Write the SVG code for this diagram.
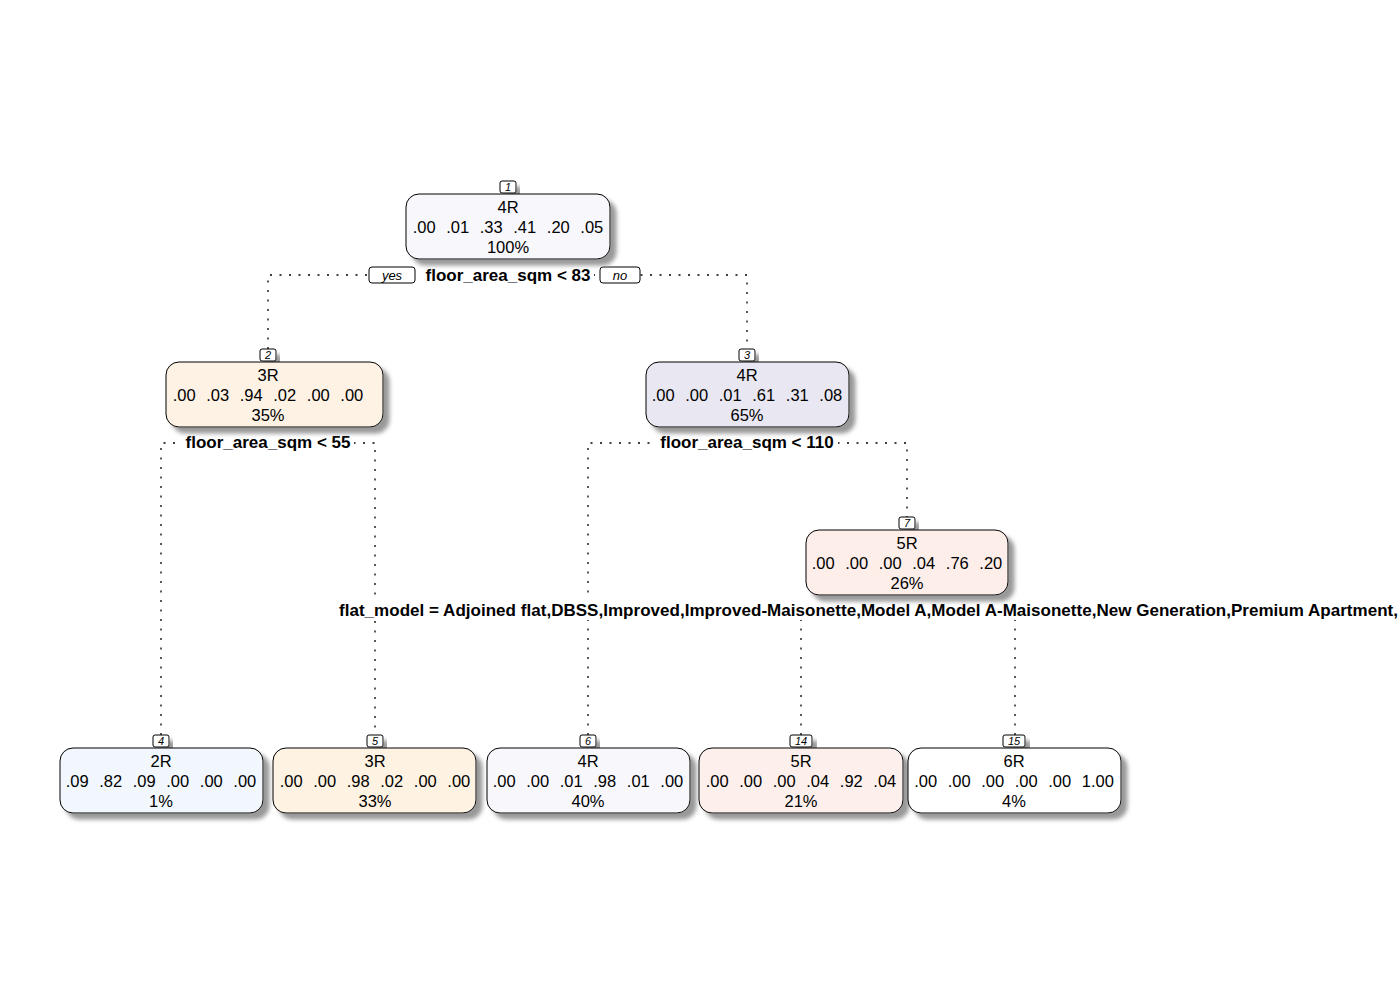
<svg xmlns="http://www.w3.org/2000/svg" width="1400" height="1000" viewBox="0 0 1400 1000">
<defs>
<filter id="sh" x="-10%" y="-20%" width="130%" height="150%">
<feDropShadow dx="6" dy="6" stdDeviation="2.2" flood-color="#999" flood-opacity="1"/>
</filter>
</defs>
<style>
.node{stroke:#000;stroke-width:1;filter:url(#sh)}
.t{font-family:"Liberation Sans",Arial,sans-serif;font-size:16.5px;text-anchor:middle;fill:#000}
.v{word-spacing:6px}
.num{fill:#fff;stroke:#000;stroke-width:1;filter:url(#sh)}
.nt{font-family:"Liberation Sans",Arial,sans-serif;font-size:11px;font-style:italic;text-anchor:middle}
.split{font-family:"Liberation Sans",Arial,sans-serif;font-size:17px;font-weight:bold;fill:#000}
.c{fill:none;stroke:#000;stroke-width:1.3;stroke-dasharray:2 7.5}
.yn{fill:#fff;stroke:#000;stroke-width:1}
.ynt{font-family:"Liberation Sans",Arial,sans-serif;font-size:13px;font-style:italic;text-anchor:middle}
</style>
<rect width="1400" height="1000" fill="#fff"/>
<g id="connectors">
<path class="c" d="M268,349 V275 H747 V349"/>
<path class="c" d="M161,735 V443 H375 V735"/>
<path class="c" d="M588,735 V443 H907 V517"/>
<path class="c" d="M801,735 V620"/>
<path class="c" d="M1015,735 V620"/>
</g>
<g id="split-labels">
<rect x="421" y="265" width="173" height="20" fill="#fff"/>
<text class="split" x="508" y="281" text-anchor="middle">floor_area_sqm &lt; 83</text>
<rect x="369" y="267" width="46" height="16" rx="3" class="yn"/>
<text class="ynt" x="392" y="280">yes</text>
<rect x="600" y="267" width="40" height="16" rx="3" class="yn"/>
<text class="ynt" x="620" y="280">no</text>
<rect x="182" y="433" width="172" height="20" fill="#fff"/>
<text class="split" x="268" y="448" text-anchor="middle">floor_area_sqm &lt; 55</text>
<rect x="656" y="433" width="182" height="20" fill="#fff"/>
<text class="split" x="747" y="448" text-anchor="middle">floor_area_sqm &lt; 110</text>
<rect x="336" y="600" width="1064" height="20" fill="#fff"/>
<text class="split" x="339" y="616" textLength="1059" lengthAdjust="spacing">flat_model = Adjoined flat,DBSS,Improved,Improved-Maisonette,Model A,Model A-Maisonette,New Generation,Premium Apartment,</text>
</g>
<g id="node1">
<rect class="num" x="500" y="181" width="16" height="12" rx="2"/>
<text class="nt" x="508" y="191">1</text>
<rect class="node" x="406" y="194" width="204" height="65" rx="13" fill="#F8F8FC"/>
<text class="t" x="508" y="213">4R</text>
<text class="t v" x="508" y="233">.00 .01 .33 .41 .20 .05</text>
<text class="t" x="508" y="253">100%</text>
</g>
<g id="node2">
<rect class="num" x="260" y="349" width="16" height="12" rx="2"/>
<text class="nt" x="268" y="359">2</text>
<rect class="node" x="166" y="362" width="217" height="65" rx="13" fill="#FDF2E4"/>
<text class="t" x="268" y="381">3R</text>
<text class="t v" x="268" y="401">.00 .03 .94 .02 .00 .00</text>
<text class="t" x="268" y="421">35%</text>
</g>
<g id="node3">
<rect class="num" x="739" y="349" width="16" height="12" rx="2"/>
<text class="nt" x="747" y="359">3</text>
<rect class="node" x="646" y="362" width="203" height="65" rx="13" fill="#E9E7F1"/>
<text class="t" x="747" y="381">4R</text>
<text class="t v" x="747" y="401">.00 .00 .01 .61 .31 .08</text>
<text class="t" x="747" y="421">65%</text>
</g>
<g id="node7">
<rect class="num" x="899" y="517" width="16" height="12" rx="2"/>
<text class="nt" x="907" y="527">7</text>
<rect class="node" x="806" y="530" width="202" height="65" rx="13" fill="#FDEEE9"/>
<text class="t" x="907" y="549">5R</text>
<text class="t v" x="907" y="569">.00 .00 .00 .04 .76 .20</text>
<text class="t" x="907" y="589">26%</text>
</g>
<g id="node4">
<rect class="num" x="153" y="735" width="16" height="12" rx="2"/>
<text class="nt" x="161" y="745">4</text>
<rect class="node" x="60" y="748" width="203" height="65" rx="13" fill="#F1F7FD"/>
<text class="t" x="161" y="767">2R</text>
<text class="t v" x="161" y="787">.09 .82 .09 .00 .00 .00</text>
<text class="t" x="161" y="807">1%</text>
</g>
<g id="node5">
<rect class="num" x="367" y="735" width="16" height="12" rx="2"/>
<text class="nt" x="375" y="745">5</text>
<rect class="node" x="273" y="748" width="203" height="65" rx="13" fill="#FEF2E2"/>
<text class="t" x="375" y="767">3R</text>
<text class="t v" x="375" y="787">.00 .00 .98 .02 .00 .00</text>
<text class="t" x="375" y="807">33%</text>
</g>
<g id="node6">
<rect class="num" x="580" y="735" width="16" height="12" rx="2"/>
<text class="nt" x="588" y="745">6</text>
<rect class="node" x="487" y="748" width="203" height="65" rx="13" fill="#F8F8FC"/>
<text class="t" x="588" y="767">4R</text>
<text class="t v" x="588" y="787">.00 .00 .01 .98 .01 .00</text>
<text class="t" x="588" y="807">40%</text>
</g>
<g id="node14">
<rect class="num" x="790" y="735" width="22" height="12" rx="2"/>
<text class="nt" x="801" y="745">14</text>
<rect class="node" x="699" y="748" width="204" height="65" rx="13" fill="#FDF0EC"/>
<text class="t" x="801" y="767">5R</text>
<text class="t v" x="801" y="787">.00 .00 .00 .04 .92 .04</text>
<text class="t" x="801" y="807">21%</text>
</g>
<g id="node15">
<rect class="num" x="1003" y="735" width="22" height="12" rx="2"/>
<text class="nt" x="1014" y="745">15</text>
<rect class="node" x="908" y="748" width="213" height="65" rx="13" fill="#FFFFFF"/>
<text class="t" x="1014" y="767">6R</text>
<text class="t v" x="1014" y="787">.00 .00 .00 .00 .00 1.00</text>
<text class="t" x="1014" y="807">4%</text>
</g>
</svg>
